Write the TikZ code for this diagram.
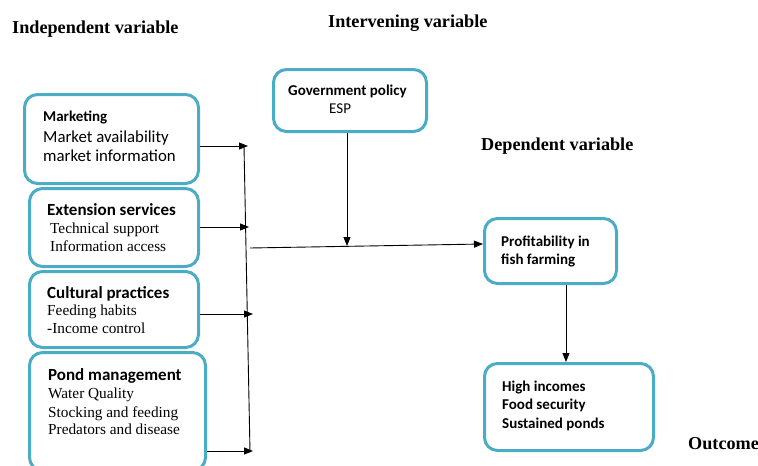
\documentclass[tikz,border=0pt]{standalone}
\usepackage{fontspec}
\setmainfont{Liberation Serif}
\newfontfamily\carlitofont{Carlito}
\usetikzlibrary{arrows.meta}
\definecolor{boxblue}{RGB}{75,172,198}
\tikzset{
  vbox/.style={draw=boxblue, line width=3pt, rounded corners=13pt, fill=white, inner sep=0pt},
  conn/.style={draw=black, line width=0.9pt},
  arr/.style={conn, -{Triangle[length=9pt,width=7pt]}},
  head/.style={anchor=base west, inner sep=0pt, font=\fontsize{18.2}{21}\selectfont\bfseries},
  bsans/.style={anchor=base west, inner sep=0pt, font=\carlitofont\fontsize{15}{18}\selectfont\bfseries},
  bigsans/.style={anchor=base west, inner sep=0pt, font=\carlitofont\fontsize{17}{20}\selectfont\bfseries},
  rsans/.style={anchor=base west, inner sep=0pt, font=\carlitofont\fontsize{16.8}{20}\selectfont},
  ser/.style={anchor=base west, inner sep=0pt, font=\fontsize{15.3}{18}\selectfont},
}
\begin{document}
\begin{tikzpicture}[x=1pt,y=-1pt]
\clip (0,0) rectangle (758,466);
\fill[white] (0,0) rectangle (758,466);
% headings
\node[head] (hind) at (12,33) {Independent variable};
\node[head] (hint) at (328,27) {Intervening variable};
\node[head] (hdep) at (481,150) {Dependent variable};
\node[head] (hout) at (688,449) {Outcome};
% boxes
\node[vbox, minimum width=174pt, minimum height=89pt] (mkt) at (111.5,139) {};
\node[vbox, minimum width=169pt, minimum height=78pt] (ext) at (114,227.5) {};
\node[vbox, minimum width=169pt, minimum height=76pt] (cul) at (114,309.5) {};
\node[vbox, minimum width=176pt, minimum height=118pt] (pond) at (117.5,411.5) {};
\node[vbox, minimum width=153pt, minimum height=62pt] (gov) at (350,100.5) {};
\node[vbox, minimum width=132pt, minimum height=65pt] (prof) at (550.5,251) {};
\node[vbox, minimum width=169pt, minimum height=87pt] (outc) at (569,407) {};
% box texts
\node[bsans] (t1) at (43,121) {Marketing};
\node[rsans] (t2) at (43,142) {Market availability};
\node[rsans] (t3) at (43,161) {market information};
\node[bigsans] (t4) at (47,215) {Extension services};
\node[ser] (t5) at (50,233) {Technical support};
\node[ser] (t6) at (50,251) {Information access};
\node[bigsans] (t7) at (47,298) {Cultural practices};
\node[ser] (t8) at (47,315) {Feeding habits};
\node[ser] (t9) at (47,333) {-Income control};
\node[bigsans] (t10) at (48,380) {Pond management};
\node[ser] (t11) at (48,398) {Water Quality};
\node[ser] (t12) at (48,417) {Stocking and feeding};
\node[ser] (t13) at (48,434) {Predators and disease};
\node[bsans] (t14) at (288,95) {Government policy};
\node[bsans, font=\carlitofont\fontsize{15}{18}\selectfont] (t15) at (329,113) {ESP};
\node[bsans] (t16) at (501,246) {Profitability in};
\node[bsans] (t17) at (501,264) {fish farming};
\node[bsans] (t18) at (502,391) {High incomes};
\node[bsans] (t19) at (502,409) {Food security};
\node[bsans] (t20) at (502,428) {Sustained ponds};
% connector coordinates
\coordinate (a1) at (248,146);
\coordinate (a2) at (249,227);
\coordinate (a3) at (253,314);
\coordinate (a4) at (253,451);
\coordinate (vtop) at (244,146);
\coordinate (vbot) at (250,452);
\coordinate (h0) at (250,248);
\coordinate (hend) at (483,244);
\coordinate (gj) at (347,246);
\coordinate (pc) at (566,300);
% connectors
\draw[conn] (vtop) -- (vbot);
\draw[arr] (mkt.east |- a1) -- (a1);
\draw[arr] (ext.east |- a2) -- (a2);
\draw[arr] (cul.east |- a3) -- (a3);
\draw[arr] (pond.east |- a4) -- (a4);
\draw[arr] (h0) -- (prof.west |- hend);
\draw[arr] (gov.south -| gj) -- (gj);
\draw[arr] (prof.south -| pc) -- (outc.north -| pc);
\end{tikzpicture}
\end{document}
